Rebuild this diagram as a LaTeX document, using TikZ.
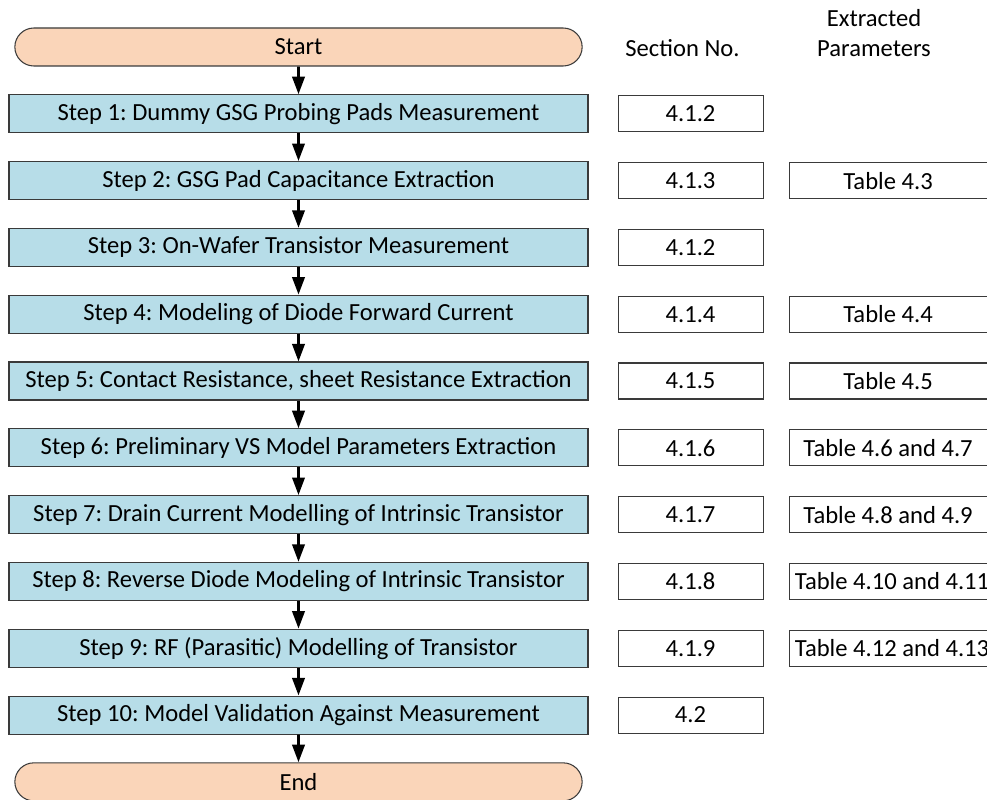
\documentclass[tikz,border=0pt]{standalone}
\usepackage{fontspec}
\setmainfont{Carlito}
\usepackage{xcolor}
\usepackage{tikz}
\usetikzlibrary{arrows.meta,positioning,shapes.misc}
\definecolor{fblue}{HTML}{B7DDE8}
\definecolor{forange}{HTML}{FAD5B9}
\definecolor{fedge}{HTML}{3A3A3A}
\frenchspacing

\begin{document}
\begin{tikzpicture}[
      every node/.style={align=center,font=\fontsize{14}{17}\selectfont},
      node distance=0.555,
      term/.style={rounded rectangle,fill=forange,draw=fedge,line width=0.6pt,
                   minimum width=11.58cm,minimum height=0.76cm},
      stepbox/.style={rectangle,fill=fblue,draw=fedge,line width=0.6pt,
                   minimum width=11.58cm,minimum height=0.76cm},
      secbox/.style={rectangle,draw=fedge,line width=0.6pt,
                   minimum width=2.9cm,minimum height=0.72cm},
      parbox/.style={rectangle,draw=fedge,line width=0.6pt,
                   minimum width=3.96cm,minimum height=0.72cm},
      arr/.style={-{Triangle[length=10pt,width=7pt]},line width=1.6pt,black}
    ]
      \useasboundingbox (0,0) rectangle (19.74,-16);
      \node[term] (start) at (5.97,-0.94) {Start};
      \node[stepbox,below=of start] (s1) {Step 1: Dummy GSG Probing Pads Measurement};
      \node[stepbox,below=of s1] (s2) {Step 2: GSG Pad Capacitance Extraction};
      \node[stepbox,below=of s2] (s3) {Step 3: On-Wafer Transistor Measurement};
      \node[stepbox,below=of s3] (s4) {Step 4: Modeling of Diode Forward Current};
      \node[stepbox,below=of s4] (s5) {Step 5: Contact Resistance, sheet Resistance Extraction};
      \node[stepbox,below=of s5] (s6) {Step 6: Preliminary VS Model Parameters Extraction};
      \node[stepbox,below=of s6] (s7) {Step 7: Drain Current Modelling of Intrinsic Transistor};
      \node[stepbox,below=of s7] (s8) {Step 8: Reverse Diode Modeling of Intrinsic Transistor};
      \node[stepbox,below=of s8] (s9) {Step 9: RF (Parasitic) Modelling of Transistor};
      \node[stepbox,below=of s9] (s10) {Step 10: Model Validation Against Measurement};
      \node[term,below=of s10] (end) {End};
      \foreach \a/\b in {start/s1,s1/s2,s2/s3,s3/s4,s4/s5,s5/s6,s6/s7,s7/s8,s8/s9,s9/s10,s10/end}
        \draw[arr] (\a) -- (\b);
      % section numbers
      \foreach \s/\t in {1/4.1.2,2/4.1.3,3/4.1.2,4/4.1.4,5/4.1.5,6/4.1.6,7/4.1.7,8/4.1.8,9/4.1.9,10/4.2}
        \node[secbox,right=0.58 of s\s] (sec\s) {\t};
      % extracted parameters
      \foreach \s/\t in {2/Table 4.3,4/Table 4.4,5/Table 4.5,6/Table 4.6 and 4.7,7/Table 4.8 and 4.9,
                         8/Table 4.10 and 4.11,9/Table 4.12 and 4.13}
        \node[parbox,right=0.5 of sec\s] (par\s) {\t};
      \node (sechead) at (13.65,-0.96) {Section No.};
      \node (parhead) at (17.48,-0.66) {Extracted\\Parameters};
    \end{tikzpicture}
\end{document}
